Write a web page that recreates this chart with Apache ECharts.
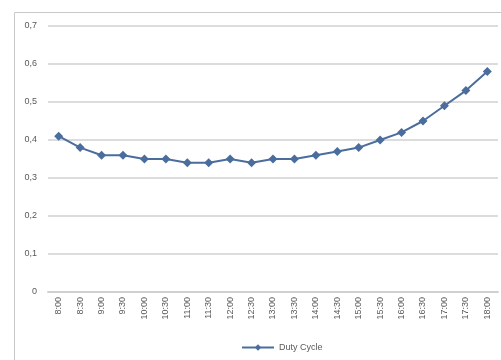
<!DOCTYPE html>
<html><head><meta charset="utf-8">
<script src="https://cdn.jsdelivr.net/npm/echarts@6/dist/echarts.min.js"></script>
<style>html,body{margin:0;padding:0;background:#fff}#c{width:501px;height:360px}</style>
</head><body><div id="c"></div>
<script>
const categories = ['8:00','8:30','9:00','9:30','10:00','10:30','11:00','11:30','12:00','12:30','13:00','13:30','14:00','14:30','15:00','15:30','16:00','16:30','17:00','17:30','18:00'];
const dutyCycle = [0.41,0.38,0.36,0.36,0.35,0.35,0.34,0.34,0.35,0.34,0.35,0.35,0.36,0.37,0.38,0.40,0.42,0.45,0.49,0.53,0.58];
const seriesName = 'Duty Cycle';
const chart = echarts.init(document.getElementById('c'));
chart.setOption({
  animation:false,
  graphic:[
    {type:'line',shape:{x1:14.5,y1:12.5,x2:501,y2:12.5},style:{stroke:'#c8c8c8',lineWidth:1}},
    {type:'line',shape:{x1:14.5,y1:12.5,x2:14.5,y2:360},style:{stroke:'#c8c8c8',lineWidth:1}}
  ],
  grid:{left:48,right:3,top:26,bottom:68},
  legend:{bottom:3,left:236,itemWidth:32,itemHeight:8,itemGap:4,
    textStyle:{fontFamily:'Liberation Sans',fontSize:9,color:'#595959'},
    data:[seriesName]},
  xAxis:{type:'category',data:categories,boundaryGap:true,
    axisLine:{lineStyle:{color:'#d0d0d0',width:2}},axisTick:{show:false},
    axisLabel:{rotate:90,fontSize:9,color:'#595959',fontFamily:'Liberation Sans',margin:5,interval:0}},
  yAxis:{type:'value',min:0,max:0.7,interval:0.1,
    axisLine:{show:false},axisTick:{show:false},
    splitLine:{lineStyle:{color:'#dcdcdc',width:2}},
    axisLabel:{fontSize:9,color:'#595959',fontFamily:'Liberation Sans',margin:11,
      formatter:v=>v===0?'0':(Math.round(v*10)/10).toString().replace('.',',')}},
  series:[{name:seriesName,type:'line',data:dutyCycle,symbol:'diamond',symbolSize:9,
    lineStyle:{color:'#4a6d9e',width:2},itemStyle:{color:'#4a6d9e'}}]
});
</script></body></html>
